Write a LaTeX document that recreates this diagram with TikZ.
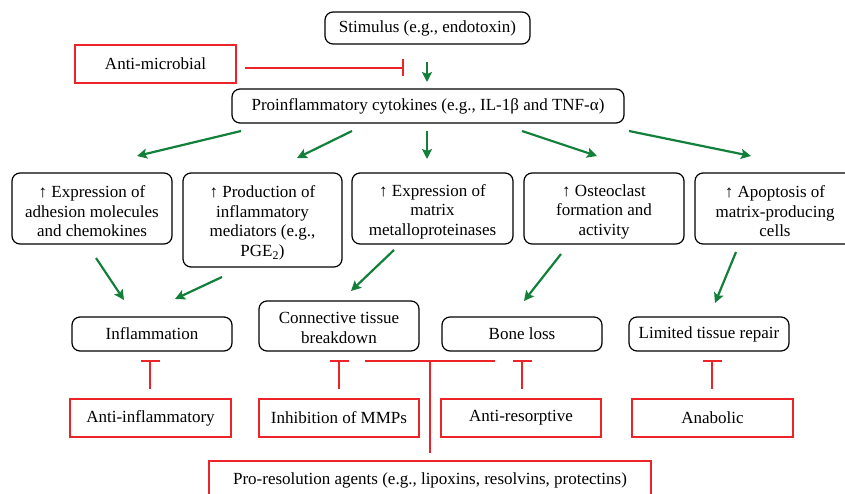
\documentclass[tikz,border=0pt]{standalone}
\usepackage{fontspec}
\setmainfont{Liberation Serif}
\usetikzlibrary{arrows.meta}
\definecolor{grn}{RGB}{18,128,58}
\definecolor{rd}{RGB}{236,36,40}
\newcommand\dfont{\fontsize{17}{19.5}\selectfont}
\begin{document}
\begin{tikzpicture}[x=1pt,y=-1pt,
  blk/.style={draw=black, line width=1.2pt, rounded corners=8pt, align=center, inner sep=0pt, font=\dfont},
  txt/.style={align=center, inner sep=0pt, font=\dfont},
  redbox/.style={draw=rd, line width=2.2pt, align=center, inner sep=0pt, font=\dfont},
  garrow/.style={draw=grn, line width=2.2pt, -{Stealth[length=10pt,width=10pt,inset=2pt]}},
  inhib/.style={draw=rd, line width=2.3pt, -{Bar[width=#1, line width=2.3pt]}},
  inhib/.default=19pt]
\useasboundingbox (0,0) rectangle (845,494);
\clip (0,0) rectangle (845,494);
\fill[white] (0,0) rectangle (845,494);

% top
\node[blk, minimum width=205pt, minimum height=32pt] (stim) at (427.5,28) {Stimulus (e.g., endotoxin)};
\node[redbox, minimum width=161pt, minimum height=38pt] (amic) at (155.5,64) {Anti-microbial};
\node[blk, minimum width=392pt, minimum height=34pt] (pro) at (428,106) {Proinflammatory cytokines (e.g., IL-1β and TNF-α)};

% middle row
\node[blk, minimum width=160pt, minimum height=71pt,
  label={[txt, yshift=-3pt]center:{↑ Expression of\\adhesion molecules\\and chemokines}}] (m1) at (92,208.5) {};
\node[blk, minimum width=159pt, minimum height=94pt,
  label={[txt, yshift=-3pt]center:{↑ Production of\\inflammatory\\mediators (e.g.,\\PGE\textsubscript{2})}}] (m2) at (262.5,220) {};
\node[blk, minimum width=161pt, minimum height=71pt,
  label={[txt, yshift=-3pt]center:{↑ Expression of\\matrix\\metalloproteinases}}] (m3) at (432.5,208.5) {};
\node[blk, minimum width=160pt, minimum height=71pt,
  label={[txt, yshift=-3pt]center:{↑ Osteoclast\\formation and\\activity}}] (m4) at (604,208.5) {};
\node[blk, minimum width=160pt, minimum height=71pt,
  label={[txt, yshift=-3pt]center:{↑ Apoptosis of\\matrix-producing\\cells}}] (m5) at (775,208.5) {};

% outcome row
\node[blk, minimum width=160pt, minimum height=34pt] (b1) at (152,334) {Inflammation};
\node[blk, minimum width=160pt, minimum height=50pt,
  label={[txt, yshift=-2pt]center:{Connective tissue\\breakdown}}] (b2) at (339,326) {};
\node[blk, minimum width=160pt, minimum height=34pt] (b3) at (522,334) {Bone loss};
\node[blk, minimum width=160pt, minimum height=34pt] (b4) at (709,334) {Limited tissue repair};

% therapies
\node[redbox, minimum width=161pt, minimum height=38pt] (r1) at (150.5,418) {Anti-inflammatory};
\node[redbox, minimum width=160pt, minimum height=38pt] (r2) at (339,418) {Inhibition of MMPs};
\node[redbox, minimum width=160pt, minimum height=38pt] (r3) at (521,418) {Anti-resorptive};
\node[redbox, minimum width=161pt, minimum height=38pt] (r4) at (712.5,418) {Anabolic};
\node[redbox, minimum width=442pt, minimum height=38pt] (r5) at (430,480) {Pro-resolution agents (e.g., lipoxins, resolvins, protectins)};

% green arrows
\coordinate (s0) at (427,62);  \coordinate (e0) at (427,82);
\draw[garrow] (s0) -- (e0);
\coordinate (s1) at (241,131); \coordinate (e1) at (137,156);
\coordinate (s2) at (352,131); \coordinate (e2) at (297,158);
\coordinate (s3) at (427,131); \coordinate (e3) at (427,159);
\coordinate (s4) at (522,131); \coordinate (e4) at (597,156);
\coordinate (s5) at (629,131); \coordinate (e5) at (751,156);
\foreach \i in {1,...,5} {\draw[garrow] (s\i) -- (e\i);}
\coordinate (t1) at (96,258);  \coordinate (u1) at (124,300);
\coordinate (t2) at (222,277); \coordinate (u2) at (175,299);
\coordinate (t3) at (394,250); \coordinate (u3) at (351,291);
\coordinate (t4) at (561,254); \coordinate (u4) at (524,301);
\coordinate (t5) at (736,252); \coordinate (u5) at (715,303);
\foreach \i in {1,...,5} {\draw[garrow] (t\i) -- (u\i);}

% inhibitions
\coordinate (am0) at (245,68); \coordinate (am1) at (404,68);
\draw[inhib=17pt] (am0) -- (am1);
\coordinate (i1a) at (150,389); \coordinate (i1b) at (150,360);
\coordinate (i2a) at (339,389); \coordinate (i2b) at (339,360);
\coordinate (i3a) at (522,389); \coordinate (i3b) at (522,360);
\coordinate (i4a) at (712,389); \coordinate (i4b) at (712,360);
\foreach \i in {1,...,4} {\draw[inhib] (i\i a) -- (i\i b);}
\coordinate (p0) at (430,453); \coordinate (p1) at (430,360);
\draw[inhib=130pt] (p0) -- (p1);
\end{tikzpicture}
\end{document}
